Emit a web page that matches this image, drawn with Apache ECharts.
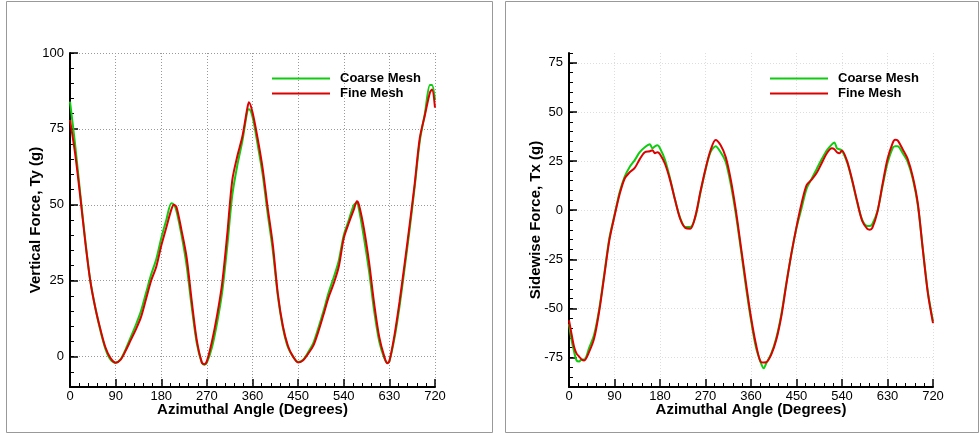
<!DOCTYPE html>
<html><head><meta charset="utf-8">
<script src="https://cdn.jsdelivr.net/npm/echarts@6/dist/echarts.min.js"></script>
<style>html,body{margin:0;padding:0;background:#fff}#c{width:980px;height:434px}</style>
</head><body><div id="c"></div>
<script>
const seriesNames = ['Coarse Mesh', 'Fine Mesh'];
const seriesColors = ['#10cc10', '#dd0000'];

// Vertical force Ty (g) vs azimuthal angle
const tyAngles = [0,10,20,30,40,50,60,70,80,90,100,110,120,130,140,150,160,170,180,190,200,
  205,210,220,230,240,250,260,265,270,280,290,300,310,320,330,340,350,353,
  360,370,380,390,400,410,420,430,440,450,460,470,480,490,500,510,520,530,540,550,560,
  566,570,580,590,600,610,620,626,630,640,650,660,670,680,690,700,710,714,720];
const tyCoarse = [84,70,54,38.5,25,16,8.5,2.5,-1,-2,-0.8,2.5,6.5,10.5,15,21,27,32,39,45,50.5,
  50,48,40,30,16.5,4.5,-2,-2.7,-2,3,11,21,36,53,63,71,81,81.5,
  79,70,60,47,35,20,9.5,3,0,-1.8,-1,1.5,4.5,9.5,15,21,26,31.5,40,45,50,
  50.5,48.5,39,28,15,5,-0.5,-2,-1.5,6,16.5,29,42,56,71,80,89.5,89.5,84.5];
const tyFine = [78,67,53,38,25,16,9,3,-0.5,-2,-1,2,5.5,9,13,19,25,29.5,36.5,42.5,48.5,
  50,49.3,41.6,32.8,18.5,5.5,-1.9,-2.5,-1.5,5,13.5,24,40,58,66,72.5,82,83.8,
  80.5,72,62,49,37,20.7,10,3.5,0,-1.9,-1.2,1,3.6,8.3,13.8,19.5,24,29.5,39,44,48.5,
  51.2,50,42,31,17.5,6.5,0,-2.2,-1.5,7,18,30.5,43.5,57,72,79.5,87,88,82];

// Sidewise force Tx (g) vs azimuthal angle
const txAngles = [0,5,10,15,20,25,30,40,50,60,70,80,90,100,110,120,130,140,150,160,
  165,170,175,180,190,200,210,220,230,240,250,260,270,280,290,300,310,320,330,340,350,360,370,380,
  385,390,400,410,420,430,440,450,460,470,480,490,500,510,520,
  525,530,535,540,550,560,570,580,590,595,600,610,620,630,640,645,650,660,670,680,690,700,710,720];
const txCoarse = [-58,-66,-72,-76.5,-77,-76,-76,-70,-63,-50,-32,-14,-2.5,9,17,22,25.5,29.5,32,33.5,
  31.5,32.5,33,31.5,25.5,16,5,-4,-8.5,-8.5,-3.5,9,20.5,29.5,32.5,29.5,24.5,13,-2,-20,-39,-56,-70,-78,
  -80.5,-78,-73,-65,-53,-37,-22,-9,1,11,16,21,26,30.5,33.5,
  34.5,31.5,31,30.3,24.5,15,4,-5,-8,-8,-7,-0.5,12,24,31.5,32.5,32.5,29,24.5,16,2.5,-20,-42,-56.5];
const txFine = [-56,-63,-69.5,-73,-74.5,-76,-76.5,-72,-65,-51,-33,-15,-3,8,16,19.3,21.5,26,29.5,30,
  30.5,29,29.5,28.5,23.5,15.3,5,-4.5,-9,-9.4,-3,9.5,21,30.5,35.7,33,27,15.5,0,-18.5,-37,-54.5,-68.5,-77.4,
  -77.5,-77.4,-73.5,-66,-54,-37.5,-22,-8.5,3.4,12.8,15.5,19,24,29,31.5,
  31,29.5,29,30.3,25,15.5,4.5,-5.5,-9.5,-9.9,-9,-1,13,26,34,35.8,35.5,31,26,17,3.4,-20.4,-42.5,-57.5];

const tyTickValues = [0, 25, 50, 75, 100];
const txTickValues = [-75, -50, -25, 0, 25, 50, 75];
const angleTitle = 'Azimuthal Angle (Degrees)';
const tyTitle = 'Vertical Force, Ty (g)';
const txTitle = 'Sidewise Force, Tx (g)';

const FONT = '"Liberation Sans", Arial, Helvetica, sans-serif';

function xAxisFor(gi, gridColor) {
  return {
    type: 'value', gridIndex: gi, min: 0, max: 720, interval: 90,
    axisLine: { show: true, onZero: false, lineStyle: { color: '#000', width: 2 } },
    axisTick: { show: true, inside: true, length: 8, lineStyle: { color: '#000', width: 1.5 } },
    minorTick: { show: true, splitNumber: 5, length: 4, lineStyle: { color: '#000', width: 1 } },
    axisLabel: { color: '#000', fontSize: 13, fontFamily: FONT, margin: 3 },
    splitLine: { show: true, lineStyle: { color: gridColor, width: 1, type: [1, 2] } },
    name: angleTitle, nameLocation: 'middle', nameGap: 15, nameMoveOverlap: false,
    nameTextStyle: { color: '#000', fontSize: 15, fontWeight: 'bold', fontFamily: FONT }
  };
}
function yMainFor(gi, min, max, ticks, title, gridColor, gap) {
  return {
    type: 'value', gridIndex: gi, min: min, max: max,
    axisLine: { show: true, onZero: false, lineStyle: { color: '#000', width: 2 } },
    axisTick: { show: true, inside: true, length: 8, customValues: ticks, lineStyle: { color: '#000', width: 1.5 } },
    axisLabel: { color: '#000', fontSize: 13, fontFamily: FONT, margin: 6, customValues: ticks },
    splitLine: { show: true, lineStyle: { color: gridColor, width: 1, type: [1, 2] } },
    name: title, nameLocation: 'middle', nameGap: gap, nameRotate: 90, nameMoveOverlap: false,
    nameTextStyle: { color: '#000', fontSize: 15, fontWeight: 'bold', fontFamily: FONT }
  };
}
function yMinorFor(gi, min, max) {
  return {
    type: 'value', gridIndex: gi, min: min, max: max, interval: 5, position: 'left',
    axisLine: { show: false },
    axisTick: { show: true, inside: true, length: 4, lineStyle: { color: '#000', width: 1 } },
    axisLabel: { show: false }, splitLine: { show: false }
  };
}
function lineSeries(name, color, xi, yi, angles, vals) {
  return {
    name: name, type: 'line', xAxisIndex: xi, yAxisIndex: yi,
    data: angles.map((a, i) => [a, vals[i]]),
    showSymbol: false, symbol: 'none', smooth: 0.3,
    lineStyle: { color: color, width: 2 }, itemStyle: { color: color }
  };
}
function legendAt(left) {
  return {
    left: left, top: 72, orient: 'vertical', itemWidth: 58, itemHeight: 14, itemGap: 2,
    padding: 0, selectedMode: false, data: seriesNames,
    icon: 'path://M0,0H58V2H0Z',
    textStyle: { color: '#000', fontSize: 13, fontWeight: 'bold', fontFamily: FONT, padding: [0, 0, 0, 5] }
  };
}

const chart = echarts.init(document.getElementById('c'), null, { renderer: 'canvas' });
chart.setOption({
  animation: false,
  backgroundColor: '#fff',
  graphic: [
    { type: 'rect', shape: { x: 6.5, y: 1.5, width: 486, height: 431 }, style: { fill: 'none', stroke: '#999', lineWidth: 1 }, z: -1 },
    { type: 'rect', shape: { x: 505.5, y: 1.5, width: 473, height: 431 }, style: { fill: 'none', stroke: '#999', lineWidth: 1 }, z: -1 }
  ],
  grid: [
    { left: 70, top: 53, width: 365, height: 334 },
    { left: 569, top: 53, width: 364, height: 334 }
  ],
  legend: [legendAt(272), legendAt(770)],
  xAxis: [xAxisFor(0, '#999'), xAxisFor(1, '#ddd')],
  yAxis: [
    yMainFor(0, -10, 100, tyTickValues, tyTitle, '#999', 27),
    yMinorFor(0, -10, 100),
    yMainFor(1, -90, 80, txTickValues, txTitle, '#ddd', 26),
    yMinorFor(1, -90, 80)
  ],
  series: [
    lineSeries(seriesNames[0], seriesColors[0], 0, 0, tyAngles, tyCoarse),
    lineSeries(seriesNames[1], seriesColors[1], 0, 0, tyAngles, tyFine),
    lineSeries(seriesNames[0], seriesColors[0], 1, 2, txAngles, txCoarse),
    lineSeries(seriesNames[1], seriesColors[1], 1, 2, txAngles, txFine)
  ]
});
</script>
</body></html>
